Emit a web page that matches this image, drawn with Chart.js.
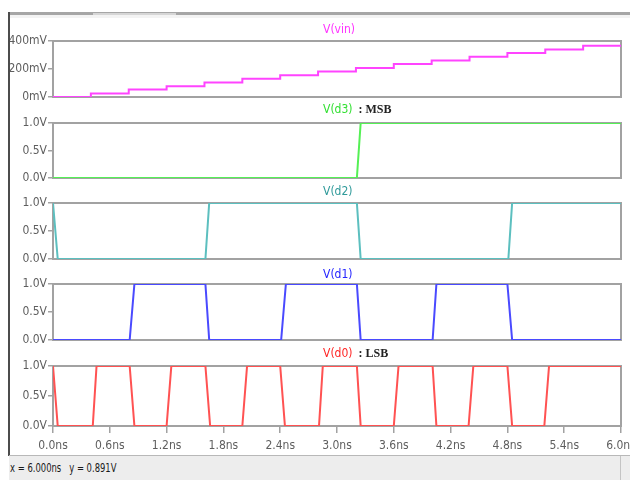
<!DOCTYPE html>
<html>
<head>
<meta charset="utf-8">
<title>V(vin) and counter bits d3..d0</title>
<script src="https://cdn.jsdelivr.net/npm/chart.js@4.4.1/dist/chart.umd.min.js"></script>
<style>
  body { margin: 0; width: 630px; height: 480px; overflow: hidden; position: relative; background: #fff;
         font-family: 'DejaVu Sans Condensed', 'Liberation Sans Narrow', sans-serif; }
  canvas { position: absolute; left: 0; }
  .topbar { position: absolute; left: 9px; top: 12px; width: 621px; height: 3px; background: #a6a6a6; z-index: 2; }
  .tab { position: absolute; left: 93px; top: 13px; width: 83px; height: 2px; background: #d6d6d6; z-index: 3; }
  .shade { position: absolute; left: 10px; top: 15px; width: 620px; height: 3px; background: #f3f3f3; z-index: 1; }
  .leftbar { position: absolute; left: 8px; top: 12px; width: 2px; height: 444px; background: #4c4c4c; z-index: 2; }
  .status { position: absolute; left: 9px; top: 455px; width: 621px; height: 25px; background: #ededed;
            border-top: 1px solid #b8b8b8; z-index: 2; font-size: 12px; color: #1a1a1a; }
  .status span { position: absolute; left: 1px; top: 5px; white-space: pre; transform: scaleX(0.78); transform-origin: 0 0; }
  .status i { position: absolute; left: 611px; top: 0; width: 1px; height: 25px; background: #c4c4c4; }
</style>
</head>
<body>
<div class="shade"></div>
<div class="topbar"></div>
<div class="tab"></div>
<div class="leftbar"></div>
<div class="status"><span>x = 6.000ns   y = 0.891V</span><i></i></div>
<script>
  // time axis (ns)
  const timeTicks = [0, 0.6, 1.2, 1.8, 2.4, 3.0, 3.6, 4.2, 4.8, 5.4, 6.0];
  const timeTickLabels = ['0.0ns', '0.6ns', '1.2ns', '1.8ns', '2.4ns', '3.0ns', '3.6ns', '4.2ns', '4.8ns', '5.4ns', '6.0ns'];

  // y ticks
  const vinTicks = [0, 0.2, 0.4];
  const vinTickLabels = ['0mV', '200mV', '400mV'];
  const bitTicks = [0, 0.5, 1];
  const bitTickLabels = ['0.0V', '0.5V', '1.0V'];

  // V(vin) staircase: level starts (ns) and levels (V), held until 6.0ns
  const vinTimes = [0, 0.4, 0.8, 1.2, 1.6, 2.0, 2.4, 2.8, 3.2, 3.6, 4.0, 4.4, 4.8, 5.2, 5.6];
  const vinVolts = [0, 0.025, 0.053, 0.077, 0.104, 0.130, 0.155, 0.183, 0.207, 0.235, 0.260, 0.288, 0.314, 0.339, 0.366];
  const vinEnd = 6.0;

  // digital outputs, corner points (ns, V)
  const d3Times = [0, 3.21, 3.25, 6.0];
  const d3Volts = [0, 0, 1, 1];
  const d2Times = [0, 0.05, 1.61, 1.65, 3.21, 3.25, 4.81, 4.85, 6.0];
  const d2Volts = [1, 0, 0, 1, 1, 0, 0, 1, 1];
  const d1Times = [0, 0.81, 0.86, 1.61, 1.65, 2.41, 2.46, 3.21, 3.25, 4.01, 4.05, 4.80, 4.85, 6.0];
  const d1Volts = [0, 0, 1, 1, 0, 0, 1, 1, 0, 0, 1, 1, 0, 0];
  const d0Times = [0, 0.05, 0.42, 0.46, 0.81, 0.86, 1.20, 1.25, 1.61, 1.66, 2.00, 2.05, 2.40, 2.45,
                   2.81, 2.85, 3.21, 3.25, 3.60, 3.65, 4.01, 4.05, 4.39, 4.44, 4.80, 4.85, 5.19, 5.24, 6.0];
  const d0Volts = [1, 0, 0, 1, 1, 0, 0, 1, 1, 0, 0, 1, 1, 0, 0, 1, 1, 0, 0, 1, 1, 0, 0, 1, 1, 0, 0, 1, 1];

  const cond = "'DejaVu Sans Condensed', 'Liberation Sans Narrow', sans-serif";
  const serif = "'Liberation Serif', 'DejaVu Serif', serif";
  const frame = '#a2a2a2';

  function points(times, volts) {
    return times.map((t, i) => ({ x: t, y: volts[i] }));
  }

  const vinPoints = points(vinTimes, vinVolts);
  vinPoints.push({ x: vinEnd, y: vinVolts[vinVolts.length - 1] });

  const panels = [
    { top: 41, height: 56, labelY: -11, color: '#ff44ff', data: vinPoints, stepped: true,
      max: 0.4, ticks: vinTicks, tickLabels: vinTickLabels,
      label: [{ text: 'V(vin)', color: '#ff33ff', font: '12px ' + cond }] },
    { top: 123, height: 55, labelY: -13, color: '#55f055', data: points(d3Times, d3Volts),
      max: 1, ticks: bitTicks, tickLabels: bitTickLabels,
      label: [{ text: 'V(d3)', color: '#33e033', font: '12px ' + cond },
              { text: '  : MSB', color: '#222', font: 'bold 12px ' + serif }] },
    { top: 203, height: 56, labelY: -11, color: '#5cbfbf', data: points(d2Times, d2Volts),
      max: 1, ticks: bitTicks, tickLabels: bitTickLabels,
      label: [{ text: 'V(d2)', color: '#2f9a9a', font: '12px ' + cond }] },
    { top: 284, height: 56, labelY: -9, color: '#4a4aff', data: points(d1Times, d1Volts),
      max: 1, ticks: bitTicks, tickLabels: bitTickLabels,
      label: [{ text: 'V(d1)', color: '#2525ff', font: '12px ' + cond }] },
    { top: 366, height: 60, labelY: -12, color: '#ff5252', data: points(d0Times, d0Volts),
      max: 1, ticks: bitTicks, tickLabels: bitTickLabels,
      label: [{ text: 'V(d0)', color: '#ff2525', font: '12px ' + cond },
              { text: '  : LSB', color: '#222', font: 'bold 12px ' + serif }] }
  ];

  // gray box round each plot area
  const boxPlugin = {
    id: 'box',
    beforeDatasetsDraw(chart) {
      const { ctx, chartArea: a } = chart;
      ctx.save();
      ctx.strokeStyle = frame;
      ctx.lineWidth = 2;
      ctx.strokeRect(a.left, a.top, a.right - a.left, a.bottom - a.top);
      ctx.restore();
    }
  };

  // trace name above each box
  const labelPlugin = {
    id: 'panelLabel',
    afterDraw(chart, args, opts) {
      const ctx = chart.ctx;
      let x = 323;
      const y = chart.chartArea.top + opts.dy;
      ctx.save();
      ctx.textBaseline = 'middle';
      opts.parts.forEach(part => {
        ctx.font = part.font;
        ctx.fillStyle = part.color;
        ctx.fillText(part.text, x, y);
        x += ctx.measureText(part.text).width;
      });
      ctx.restore();
    }
  };

  panels.forEach((p, i) => {
    const last = i === panels.length - 1;
    const padTop = 22;
    const padBottom = last ? 2 : 10;
    const axisH = last ? 30 : 0;

    const canvas = document.createElement('canvas');
    canvas.width = 630;
    canvas.height = padTop + p.height + axisH + padBottom;
    canvas.style.top = (p.top - padTop) + 'px';
    document.body.appendChild(canvas);

    new Chart(canvas, {
      type: 'line',
      data: {
        datasets: [{
          data: p.data,
          borderColor: p.color,
          borderWidth: 2,
          pointRadius: 0,
          stepped: p.stepped || false,
          tension: 0
        }]
      },
      options: {
        responsive: false,
        animation: false,
        devicePixelRatio: 1,
        layout: { padding: { left: 0, right: 9, top: padTop, bottom: padBottom } },
        plugins: {
          legend: { display: false },
          tooltip: { enabled: false },
          panelLabel: { parts: p.label, dy: p.labelY }
        },
        scales: {
          x: {
            type: 'linear',
            min: 0,
            max: 6,
            display: last,
            afterBuildTicks: s => { s.ticks = timeTicks.map(v => ({ value: v })); },
            afterFit: s => { s.height = axisH; s.paddingLeft = 0; s.paddingRight = 0; },
            grid: { drawOnChartArea: false, drawTicks: true, tickLength: 7, color: frame, lineWidth: 1.5 },
            border: { display: false },
            ticks: {
              callback: (v, k) => timeTickLabels[k],
              font: { family: cond, size: 12 },
              color: '#5e5e5e',
              padding: 6,
              maxRotation: 0,
              autoSkip: false
            }
          },
          y: {
            min: 0,
            max: p.max,
            afterBuildTicks: s => { s.ticks = p.ticks.map(v => ({ value: v })); },
            afterFit: s => { s.width = 53; s.paddingTop = 0; s.paddingBottom = 0; },
            grid: { drawOnChartArea: false, drawTicks: true, tickLength: 5, color: frame, lineWidth: 1.5 },
            border: { display: false },
            ticks: {
              callback: (v, k) => p.tickLabels[k],
              font: { family: cond, size: 12 },
              color: '#5e5e5e',
              padding: 1
            }
          }
        }
      },
      plugins: [boxPlugin, labelPlugin]
    });
  });
</script>
</body>
</html>
